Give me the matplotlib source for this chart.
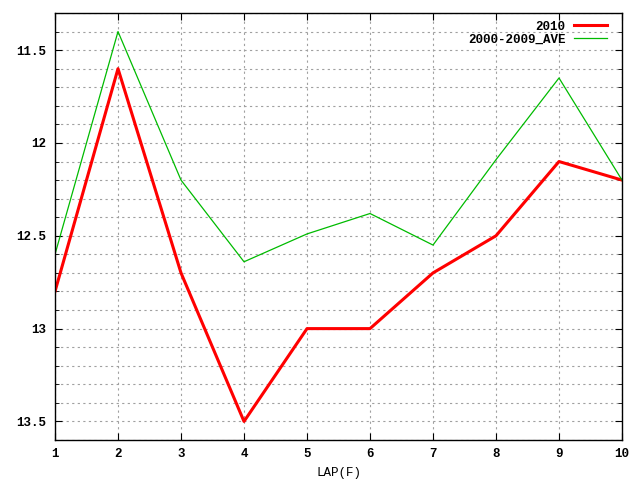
import matplotlib
matplotlib.use("Agg")
import matplotlib.pyplot as plt
from matplotlib.ticker import MultipleLocator

laps = [1, 2, 3, 4, 5, 6, 7, 8, 9, 10]
y2010 = [12.8, 11.6, 12.7, 13.5, 13.0, 13.0, 12.7, 12.5, 12.1, 12.2]
yave = [12.6, 11.4, 12.2, 12.64, 12.49, 12.38, 12.55, 12.09, 11.65, 12.2]

plt.rcParams['font.family'] = ['Liberation Mono', 'DejaVu Sans Mono']
plt.rcParams['font.weight'] = 'bold'

fig = plt.figure(figsize=(6.4, 4.8), dpi=100)
ax = fig.add_axes([55/640, 40/480, (622-55)/640, (440-13)/480])

ax.plot(laps, y2010, color='#ff0000', lw=2.2, label='2010')
ax.plot(laps, yave, color='#00bb00', lw=0.9, label='2000-2009_AVE')

ax.set_xlim(1, 10)
ax.set_ylim(13.6, 11.3)
ax.xaxis.set_major_locator(MultipleLocator(1))
ax.yaxis.set_minor_locator(MultipleLocator(0.1))
ax.set_yticks([11.5, 12, 12.5, 13, 13.5])
ax.set_yticklabels(['11.5', '12', '12.5', '13', '13.5'])

ax.grid(True, which='both', color='#a0a0a0', linestyle=(0, (2, 3)), lw=0.8)
ax.tick_params(which='both', direction='in', top=True, right=True, labelsize=9, pad=6)
ax.tick_params(which='major', length=5)
ax.tick_params(which='minor', length=3)
for s in ax.spines.values():
    s.set_linewidth(1)
ax.set_xlabel('LAP(F)', fontsize=9, labelpad=5)

ax.legend(loc='upper right', bbox_to_anchor=(0.986, 1.0), frameon=False,
          markerfirst=False, fontsize=9, handlelength=2.6, borderaxespad=0.2,
          labelspacing=0.1, handletextpad=0.7)

fig.savefig('out.png', dpi=100)
